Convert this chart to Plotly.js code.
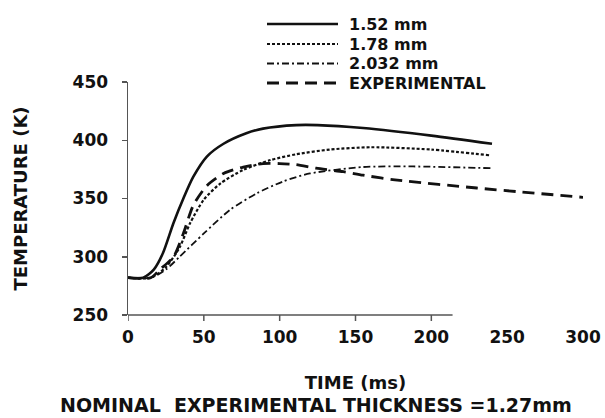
<!DOCTYPE html>
<html>
<head>
<meta charset="utf-8">
<script src="https://cdn.plot.ly/plotly-3.0.1.min.js"></script>
<style>html,body{margin:0;padding:0;background:#fff;}#chart{width:605px;height:418px;}</style>
</head>
<body>
<div id="chart"></div>
<script>
// ---- data ----
const seriesNames = ['1.52 mm', '1.78 mm', '2.032 mm', 'EXPERIMENTAL'];

const time152 = [0, 10, 17, 23, 30, 36.5, 43, 52, 63, 78, 89, 111, 125, 155, 200, 240];
const temp152 = [282, 282, 289, 303, 329, 350, 368.5, 386, 397, 406, 410, 413, 413, 410.5, 404, 397];

const time178 = [0, 15, 25, 34, 41, 50, 61, 76, 94, 111, 133, 160, 200, 239];
const temp178 = [282, 282, 291, 308, 329, 349, 363, 374.5, 383, 388, 392, 394, 392, 387];

const time2032 = [0, 15, 25, 34, 50, 67, 85, 102, 120, 155, 188, 239];
const temp2032 = [282, 282, 289, 300, 320, 340, 354.5, 364.5, 371.5, 377, 377.5, 376];

const timeExp = [0, 15, 21, 30, 36.5, 43, 52, 63, 76, 89, 100, 111, 124, 142, 155, 176, 230, 300];
const tempExp = [282, 282, 289, 300, 320, 344, 361, 371.5, 377, 380, 380, 379, 376, 373, 370, 366, 359, 351];

const xTickLabels = [0, 50, 100, 150, 200, 250, 300];
const xTickMarks = [0, 50, 100, 150, 200];
const yTicks = [250, 300, 350, 400, 450];
const xAxisLineEnd = 214;

const footnote = 'NOMINAL\u00a0\u00a0EXPERIMENTAL THICKNESS =1.27mm';

// ---- styles ----
const FONT = 'DejaVu Sans, Liberation Sans, sans-serif';
const INK = '#111';
const AXIS = '#555';
const f = (size) => ({family: FONT, size: size, color: INK, weight: 700});
const lineStyles = [
  {color: INK, width: 2.6},
  {color: INK, width: 2.2, dash: '3px,2px'},
  {color: INK, width: 1.8, dash: '7px,3px,2px,3px'},
  {color: INK, width: 2.8, dash: '12px,7px'}
];

// ---- geometry ----
const W = 605, H = 418;
const M = {l: 128, r: 22, t: 82, b: 103};
const plotW = W - M.l - M.r, plotH = H - M.t - M.b;
const px2x = (px) => (px - M.l) / plotW;
const px2y = (py) => (H - M.b - py) / plotH;

const xs = [time152, time178, time2032, timeExp];
const ys = [temp152, temp178, temp2032, tempExp];

const traces = seriesNames.map((name, i) => ({
  x: xs[i], y: ys[i], name: name, mode: 'lines', showlegend: false,
  line: Object.assign({shape: 'spline', smoothing: 0.7}, lineStyles[i])
}));

// axis line and tick marks of the (shortened) x axis
const shapes = [
  {type: 'line', xref: 'x', yref: 'paper', x0: -3, x1: xAxisLineEnd, y0: 0, y1: 0,
   line: {color: AXIS, width: 1.5}}
].concat(xTickMarks.map(v => ({
  type: 'line', xref: 'x', yref: 'paper', ysizemode: 'pixel', yanchor: 0,
  x0: v, x1: v, y0: 0, y1: -6, line: {color: AXIS, width: 1.5}
})));

// legend (long key lines as in the reference)
const legendRowsPx = [24, 44, 63.5, 83];
const legendKeyPx = [267, 338];
const legendTextPx = 348;
const annotations = [];
seriesNames.forEach((name, i) => {
  const yy = px2y(legendRowsPx[i]);
  shapes.push({type: 'line', xref: 'paper', yref: 'paper',
    x0: px2x(legendKeyPx[0]), x1: px2x(legendKeyPx[1]), y0: yy, y1: yy,
    line: lineStyles[i]});
  annotations.push({text: name, xref: 'paper', yref: 'paper',
    x: px2x(legendTextPx), y: yy, xanchor: 'left', yanchor: 'middle',
    showarrow: false, borderpad: 0, font: f(16)});
});

annotations.push({text: footnote, xref: 'paper', yref: 'paper',
  x: px2x(316), y: px2y(405), xanchor: 'center', yanchor: 'middle',
  showarrow: false, font: f(19)});

const layout = {
  width: W, height: H, margin: M,
  paper_bgcolor: '#fff', plot_bgcolor: '#fff',
  showlegend: false,
  xaxis: {range: [0, 300], tickvals: xTickLabels, ticktext: xTickLabels.map(String),
          ticks: '', showline: false, showgrid: false, zeroline: false,
          tickfont: f(17), ticklabelstandoff: 10,
          title: {text: 'TIME (ms)', font: f(18), standoff: 30}},
  yaxis: {range: [250, 450], tickvals: yTicks, ticktext: yTicks.map(String),
          ticks: 'outside', ticklen: 5, tickcolor: AXIS, tickwidth: 1.5,
          showline: true, linecolor: AXIS, linewidth: 1.5,
          showgrid: false, zeroline: false,
          tickfont: f(17), ticklabelstandoff: 10,
          title: {text: 'TEMPERATURE (K)', font: f(18), standoff: 40}},
  shapes: shapes,
  annotations: annotations
};

Plotly.newPlot('chart', traces, layout, {staticPlot: true, displayModeBar: false});
</script>
</body>
</html>
